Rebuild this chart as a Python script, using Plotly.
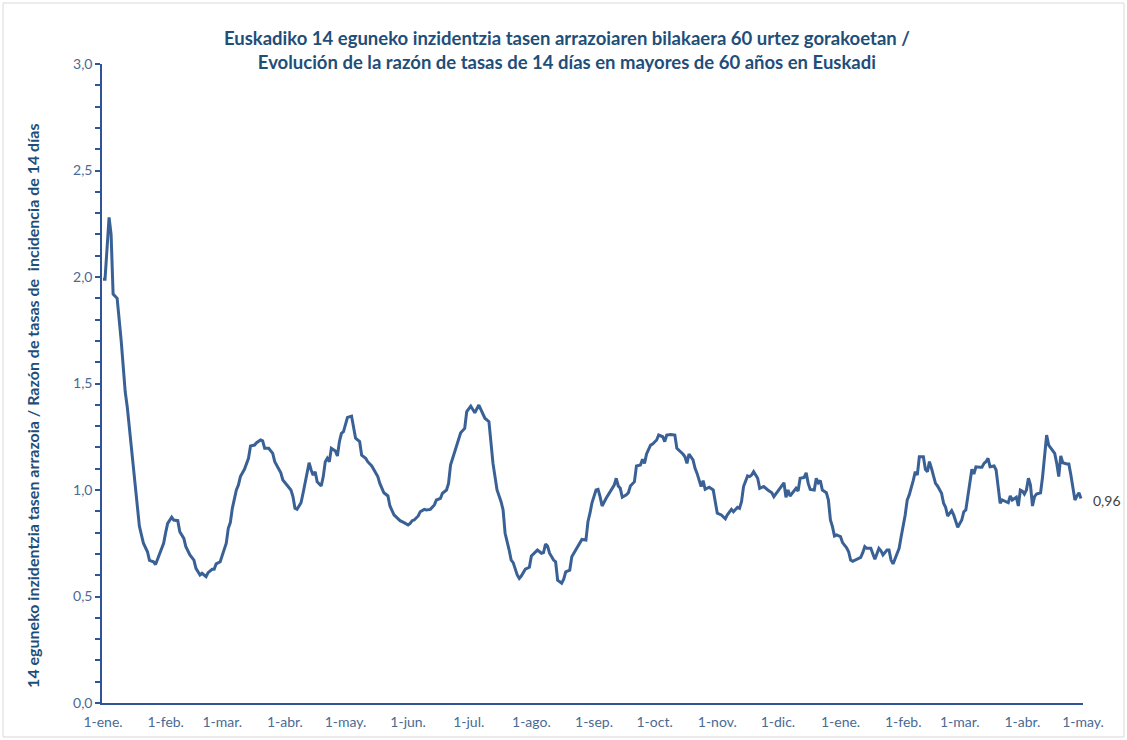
import pandas as pd
import plotly.graph_objects as go

# Days elapsed since 1 January 2021 and the 14-day rate ratio
days = [0, 1, 3, 4, 5, 7, 9, 10, 11, 12, 14, 15, 16, 17, 18, 20, 22, 23, 25, 26,
        28, 30, 31, 32, 34, 35, 37, 38, 40, 41, 43, 45, 46, 48, 49, 51, 52, 54, 55, 56,
        58, 59, 61, 62, 63, 64, 66, 67, 68, 70, 71, 72, 73, 75, 76, 78, 79, 80, 82, 84,
        85, 87, 88, 89, 91, 93, 94, 95, 96, 97, 98, 99, 100, 102, 103, 104, 105, 106, 108, 109,
        110, 111, 112, 113, 115, 116, 117, 118, 119, 120, 121, 123, 124, 125, 127, 128, 130, 131, 133, 134,
        136, 137, 139, 141, 142, 144, 146, 147, 149, 150, 151, 152, 153, 154, 156, 157, 159, 160, 162, 164,
        165, 167, 168, 170, 171, 172, 174, 176, 177, 179, 180, 182, 184, 186, 187, 189, 191, 192, 193, 195,
        197, 198, 199, 201, 202, 203, 205, 206, 207, 209, 211, 212, 214, 215, 217, 218, 219, 220, 221, 223,
        224, 225, 227, 228, 229, 231, 232, 234, 236, 237, 239, 240, 241, 242, 244, 245, 246, 247, 249, 250,
        252, 253, 254, 255, 256, 257, 259, 260, 261, 263, 264, 266, 267, 268, 269, 271, 272, 274, 275, 277,
        278, 279, 281, 283, 284, 285, 287, 288, 289, 290, 292, 293, 294, 296, 297, 298, 300, 302, 303, 304,
        306, 308, 309, 311, 312, 314, 315, 316, 317, 319, 320, 321, 322, 324, 325, 327, 329, 331, 332, 335,
        337, 338, 339, 340, 342, 343, 344, 345, 347, 348, 349, 350, 352, 353, 354, 355, 356, 358, 359, 360,
        361, 362, 363, 365, 366, 368, 369, 370, 371, 373, 375, 376, 377, 378, 380, 381, 382, 384, 385, 386,
        388, 389, 390, 391, 392, 394, 395, 396, 397, 398, 399, 401, 402, 403, 404, 406, 407, 408, 409, 410,
        412, 413, 415, 416, 417, 418, 420, 421, 422, 423, 425, 426, 427, 428, 429, 430, 431, 432, 434, 435,
        436, 437, 438, 439, 441, 442, 443, 444, 445, 447, 448, 449, 450, 452, 453, 454, 455, 456, 457, 458,
        459, 460, 461, 462, 464, 465, 466, 467, 468, 470, 471, 472, 473, 474, 475, 477, 478, 479, 480, 481,
        482, 483, 484]

ratio = [1.99, 1.99, 2.28, 2.20, 1.92, 1.90, 1.70, 1.58, 1.46, 1.39, 1.20, 1.11, 0.985, 0.89, 0.83, 0.75, 0.71, 0.67, 0.663, 0.65,
         0.70, 0.75, 0.80, 0.843, 0.872, 0.859, 0.856, 0.804, 0.773, 0.734, 0.695, 0.671, 0.632, 0.601, 0.609, 0.593, 0.612, 0.628, 0.628, 0.653,
         0.663, 0.695, 0.75, 0.82, 0.847, 0.914, 1.0, 1.023, 1.063, 1.097, 1.125, 1.149, 1.207, 1.211, 1.222, 1.235, 1.231, 1.196, 1.196, 1.172,
         1.133, 1.094, 1.081, 1.047, 1.023, 1.0, 0.969, 0.914, 0.909, 0.925, 0.94, 0.985, 1.039, 1.128, 1.094, 1.07, 1.086, 1.039, 1.019, 1.063,
         1.133, 1.149, 1.133, 1.196, 1.183, 1.16, 1.227, 1.266, 1.274, 1.305, 1.341, 1.347, 1.297, 1.243, 1.227, 1.164, 1.149, 1.133, 1.113, 1.097,
         1.063, 1.031, 0.987, 0.972, 0.925, 0.883, 0.862, 0.856, 0.847, 0.840, 0.836, 0.843, 0.856, 0.859, 0.878, 0.898, 0.909, 0.906, 0.909, 0.930,
         0.953, 0.961, 0.985, 1.0, 1.031, 1.117, 1.18, 1.231, 1.269, 1.289, 1.368, 1.394, 1.363, 1.399, 1.379, 1.337, 1.321, 1.235, 1.125, 1.0,
         0.945, 0.906, 0.797, 0.718, 0.671, 0.659, 0.601, 0.585, 0.596, 0.628, 0.637, 0.69, 0.71, 0.718, 0.703, 0.706, 0.746, 0.737, 0.703, 0.671,
         0.663, 0.577, 0.562, 0.581, 0.616, 0.624, 0.687, 0.722, 0.753, 0.768, 0.765, 0.851, 0.891, 0.94, 1.0, 1.003, 0.969, 0.925, 0.961, 0.977,
         1.003, 1.023, 1.055, 1.019, 1.008, 0.966, 0.977, 0.987, 1.019, 1.039, 1.113, 1.117, 1.144, 1.125, 1.169, 1.211, 1.216, 1.235, 1.258, 1.25,
         1.227, 1.258, 1.261, 1.258, 1.196, 1.188, 1.169, 1.156, 1.125, 1.169, 1.141, 1.102, 1.078, 1.016, 1.044, 1.003, 1.013, 1.0, 0.953, 0.891,
         0.883, 0.865, 0.883, 0.909, 0.898, 0.919, 0.914, 0.945, 1.016, 1.066, 1.063, 1.07, 1.086, 1.055, 1.008, 1.016, 1.0, 0.987, 0.969, 1.008,
         1.034, 0.966, 1.0, 0.972, 1.0, 1.008, 0.995, 1.055, 1.059, 1.081, 1.031, 1.003, 1.0, 1.055, 1.034, 1.044, 1.0, 0.987, 0.953, 0.859,
         0.828, 0.784, 0.789, 0.781, 0.753, 0.729, 0.71, 0.671, 0.665, 0.675, 0.684, 0.706, 0.734, 0.726, 0.726, 0.70, 0.675, 0.726, 0.715, 0.695,
         0.718, 0.718, 0.671, 0.653, 0.679, 0.726, 0.78, 0.828, 0.883, 0.953, 0.977, 1.045, 1.086, 1.07, 1.156, 1.156, 1.097, 1.086, 1.133, 1.102,
         1.031, 1.019, 0.985, 0.938, 0.919, 0.878, 0.903, 0.883, 0.851, 0.825, 0.859, 0.898, 0.906, 0.972, 1.055, 1.097, 1.075, 1.109, 1.107, 1.107,
         1.125, 1.133, 1.149, 1.109, 1.113, 1.094, 1.016, 0.938, 0.953, 0.945, 0.94, 0.972, 0.953, 0.966, 0.925, 1.0, 0.995, 0.981, 1.0, 1.055,
         1.023, 0.925, 0.969, 0.981, 0.987, 1.063, 1.172, 1.258, 1.211, 1.188, 1.172, 1.125, 1.063, 1.16, 1.128, 1.122, 1.122, 1.07, 1.003, 0.953,
         0.972, 0.987, 0.96]

month_ticks = ["2021-01-01", "2021-02-01", "2021-03-01", "2021-04-01", "2021-05-01", "2021-06-01",
               "2021-07-01", "2021-08-01", "2021-09-01", "2021-10-01", "2021-11-01", "2021-12-01",
               "2022-01-01", "2022-02-01", "2022-03-01", "2022-04-01", "2022-05-01"]
month_labels = ["1-ene.", "1-feb.", "1-mar.", "1-abr.", "1-may.", "1-jun.", "1-jul.", "1-ago.",
                "1-sep.", "1-oct.", "1-nov.", "1-dic.", "1-ene.", "1-feb.", "1-mar.", "1-abr.", "1-may."]

start = pd.Timestamp("2021-01-01")
dates = [start + pd.Timedelta(days=d) for d in days]

LINE = "#3A6195"
TITLE_C = "#1F4E79"
TICK_C = "#4A6A94"

fig = go.Figure()
fig.add_trace(go.Scatter(x=dates, y=ratio, mode="lines",
                         line=dict(color=LINE, width=3), hoverinfo="skip", showlegend=False))

fig.add_annotation(x=dates[-1], y=ratio[-1], text=f"{ratio[-1]:.2f}".replace(".", ","),
                   showarrow=False, xanchor="left", xshift=10, yshift=-2,
                   font=dict(family="Lato", size=14, color="#404040"))

fig.add_annotation(xref="paper", yref="paper", x=-0.0703, y=0.465,
                   text="<b>14 eguneko inzidentzia tasen arrazoia / Razón de tasas de  incidencia de 14 días</b>",
                   textangle=-90, showarrow=False, xanchor="center", yanchor="middle",
                   font=dict(family="Lato", size=16, color=TITLE_C))

# light chart-area border
fig.add_shape(type="rect", xref="paper", yref="paper",
              x0=-0.1009, x1=1.0418, y0=-0.0532, y1=1.0955,
              line=dict(color="#D9D9D9", width=1), layer="below")

fig.update_layout(
    width=1127, height=740,
    margin=dict(l=102, r=44, t=64, b=37),
    paper_bgcolor="white", plot_bgcolor="white",
    separators=",.",
    title=dict(text="<b>Euskadiko 14 eguneko inzidentzia tasen arrazoiaren bilakaera 60 urtez gorakoetan /<br>"
                    "Evolución de la razón de tasas de 14 días en mayores de 60 años en Euskadi</b>",
               x=0.503, xref="container", xanchor="center", y=0.939, yanchor="middle",
               font=dict(family="Lato", size=18.5, color=TITLE_C)),
    xaxis=dict(range=[start - pd.Timedelta(hours=12), pd.Timestamp("2022-05-01")],
               tickvals=month_ticks, ticktext=month_labels, ticks="", ticklabelstandoff=5,
               automargin=False,
               showgrid=False, zeroline=False, showline=True, linecolor="#2F5597", linewidth=1.5,
               tickfont=dict(family="Lato", size=14, color=TICK_C)),
    yaxis=dict(range=[0, 3.0], dtick=0.5, tickformat=".1f", ticks="outside", ticklen=5,
               tickcolor="#2F5597", tickwidth=1.5, automargin=False,
               minor=dict(dtick=0.1, ticks="outside", ticklen=5, tickcolor="#2F5597", tickwidth=1.5, showgrid=False),
               showgrid=False, zeroline=False, showline=True, linecolor="#2F5597", linewidth=1.5,
               tickfont=dict(family="Lato", size=14, color=TICK_C)),
)

fig.write_html("out.html", config={"displayModeBar": False},
               post_script="document.body.style.margin='0';")
